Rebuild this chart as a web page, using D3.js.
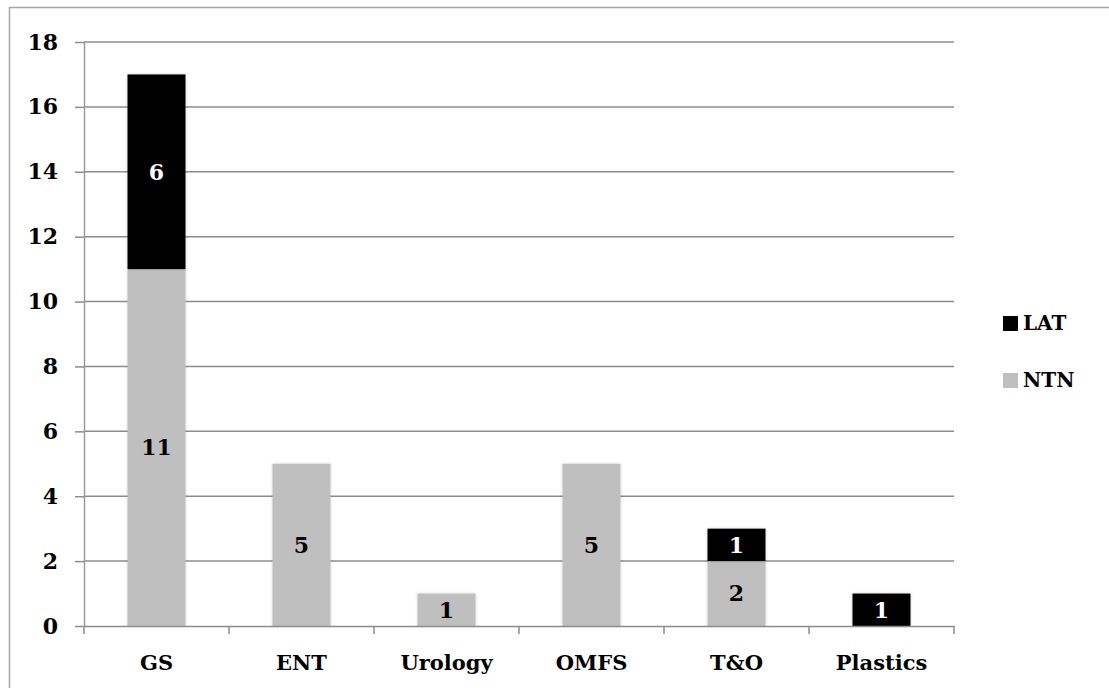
<!DOCTYPE html>
<html>
<head>
<meta charset="utf-8">
<script src="https://cdn.jsdelivr.net/npm/d3@7"></script>
<style>
  html, body { margin: 0; padding: 0; background: #fff; }
  svg { display: block; }
  text { font-family: "DejaVu Serif", "Liberation Serif", serif; font-weight: bold; }
</style>
</head>
<body>
<svg id="chart" width="1109" height="688"></svg>
<script>
// Specialties and the two stacked series
const categories = ["GS", "ENT", "Urology", "OMFS", "T&O", "Plastics"];
const ntnValues = [11, 5, 1, 5, 2, 0];
const latValues = [6, 0, 0, 0, 1, 1];
const seriesNames = ["NTN", "LAT"];
const seriesColors = { NTN: "#bfbfbf", LAT: "#000000" };
const labelColors = { NTN: "#000000", LAT: "#ffffff" };
const yTicks = [0, 2, 4, 6, 8, 10, 12, 14, 16, 18];

const svg = d3.select("#chart");
const W = 1109, H = 688;
const plot = { left: 84, right: 954, top: 42, bottom: 626 };

// Outer frame
svg.append("rect")
  .attr("x", 9.5).attr("y", 7.5)
  .attr("width", W + 20).attr("height", H + 20)
  .attr("fill", "none").attr("stroke", "#a6a6a6").attr("stroke-width", 1.5);

// Soft shadow behind bars
const defs = svg.append("defs");
const f = defs.append("filter").attr("id", "shadow")
  .attr("x", "-20%").attr("y", "-20%").attr("width", "140%").attr("height", "140%");
f.append("feDropShadow").attr("dx", 0).attr("dy", 0).attr("stdDeviation", 1.5)
  .attr("flood-color", "#000").attr("flood-opacity", 0.18);

const x = d3.scaleBand().domain(categories).range([plot.left, plot.right]).padding(0);
const y = d3.scaleLinear().domain([0, 18]).range([plot.bottom, plot.top]);

// Horizontal gridlines
svg.append("g").selectAll("line")
  .data(yTicks.filter(t => t > 0))
  .join("line")
  .attr("x1", plot.left).attr("x2", plot.right)
  .attr("y1", d => y(d)).attr("y2", d => y(d))
  .attr("stroke", "#8c8c8c").attr("stroke-width", 1.5);

// Y axis
const yAxis = svg.append("g")
  .attr("transform", `translate(${plot.left},0)`)
  .call(d3.axisLeft(y).tickValues(yTicks).tickSize(9).tickPadding(17).tickSizeOuter(0));
yAxis.select(".domain").attr("stroke", "#9a9a9a").attr("stroke-width", 1.5);
yAxis.selectAll(".tick line").attr("stroke", "#8c8c8c").attr("stroke-width", 1.5);
yAxis.selectAll(".tick text")
  .attr("font-size", 22).attr("fill", "#000")
  .style("font-family", "'DejaVu Serif', serif").style("font-weight", "bold");

// Stacked data
const table = categories.map((c, i) => ({ category: c, NTN: ntnValues[i], LAT: latValues[i] }));
const stacked = d3.stack().keys(seriesNames)(table);

const barW = x.bandwidth() * 0.4;
const gBars = svg.append("g");
stacked.forEach(layer => {
  gBars.append("g").selectAll("rect")
    .data(layer.filter(d => d[1] - d[0] > 0))
    .join("rect")
    .attr("x", d => x(d.data.category) + (x.bandwidth() - barW) / 2)
    .attr("width", barW)
    .attr("y", d => y(d[1]))
    .attr("height", d => y(d[0]) - y(d[1]))
    .attr("fill", seriesColors[layer.key])
    .attr("filter", "url(#shadow)");
});

// X axis
const xAxis = svg.append("g")
  .attr("transform", `translate(0,${plot.bottom})`)
  .call(d3.axisBottom(x).tickSize(0).tickPadding(29).tickSizeOuter(0));
xAxis.select(".domain").attr("stroke", "#8c8c8c").attr("stroke-width", 1.5);
xAxis.selectAll(".tick text")
  .attr("font-size", 21).attr("fill", "#000")
  .style("font-family", "'DejaVu Serif', serif").style("font-weight", "bold");
// Category separators on the x axis
const bounds = categories.map(c => x(c) + x.bandwidth());
xAxis.append("g").selectAll("line")
  .data([plot.left].concat(bounds))
  .join("line")
  .attr("x1", d => d).attr("x2", d => d)
  .attr("y1", 0).attr("y2", 8)
  .attr("stroke", "#8c8c8c").attr("stroke-width", 1.5);

// Value labels inside segments
stacked.forEach(layer => {
  svg.append("g").selectAll("text")
    .data(layer.filter(d => d[1] - d[0] > 0))
    .join("text")
    .attr("x", d => x(d.data.category) + x.bandwidth() / 2)
    .attr("y", d => y((d[0] + d[1]) / 2))
    .attr("dy", "0.36em")
    .attr("text-anchor", "middle")
    .attr("font-size", 22)
    .attr("fill", labelColors[layer.key])
    .text(d => d[1] - d[0]);
});

// Legend
const legendItems = ["LAT", "NTN"];
const legend = svg.append("g").attr("transform", "translate(1003,323)");
legendItems.forEach((k, i) => {
  const g = legend.append("g").attr("transform", `translate(0,${i * 57})`);
  g.append("rect").attr("x", 0).attr("y", -7).attr("width", 15).attr("height", 15)
    .attr("fill", seriesColors[k]);
  g.append("text").attr("x", 20).attr("y", 0).attr("dy", "0.36em")
    .attr("font-size", 20).attr("fill", "#000").text(k);
});
</script>
</body>
</html>
